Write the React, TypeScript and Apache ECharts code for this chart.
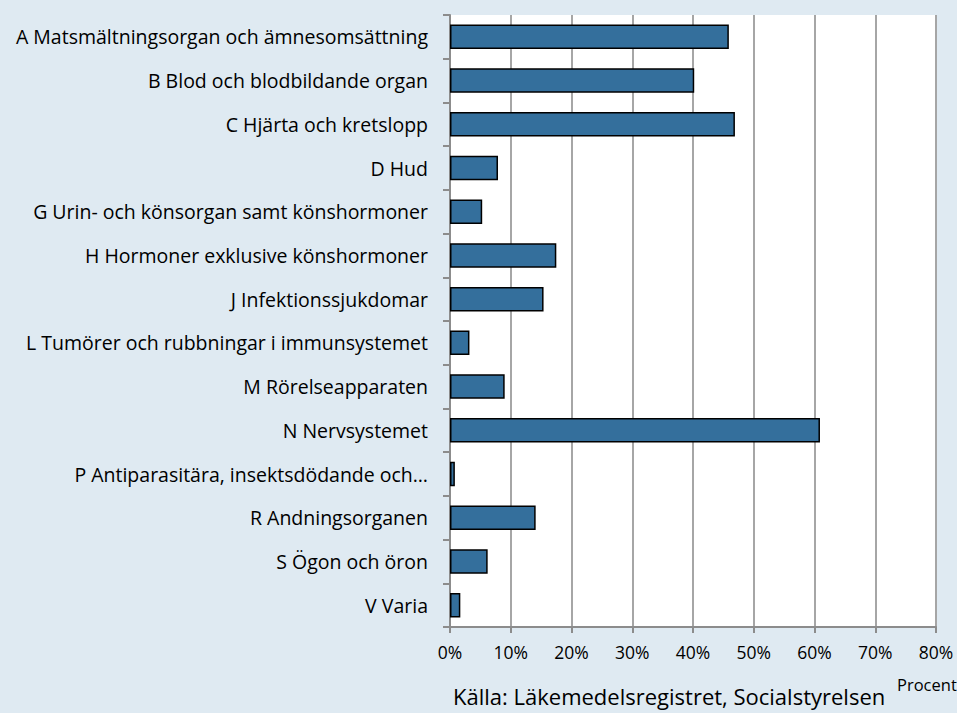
import React, { useEffect, useRef } from "react";
import * as echarts from "echarts";

const categories = [
  "A Matsmältningsorgan och ämnesomsättning",
  "B Blod och blodbildande organ",
  "C Hjärta och kretslopp",
  "D Hud",
  "G Urin- och könsorgan samt könshormoner",
  "H Hormoner exklusive könshormoner",
  "J Infektionssjukdomar",
  "L Tumörer och rubbningar i immunsystemet",
  "M Rörelseapparaten",
  "N Nervsystemet",
  "P Antiparasitära, insektsdödande och…",
  "R Andningsorganen",
  "S Ögon och öron",
  "V Varia",
];
const values = [45.9, 40.2, 46.9, 7.9, 5.3, 17.5, 15.4, 3.2, 9.0, 60.9, 0.8, 14.1, 6.2, 1.7];
const xTicks = [0, 10, 20, 30, 40, 50, 60, 70, 80];
const sourceText = "Källa: Läkemedelsregistret, Socialstyrelsen";
const axisTitle = "Procent";

export default function App() {
  const ref = useRef<HTMLDivElement>(null);
  useEffect(() => {
    if (!ref.current) return;
    const chart = echarts.init(ref.current, null, { renderer: "svg" });
    const font = "'Open Sans', 'Liberation Sans', sans-serif";
    chart.setOption({
      animation: false,
      backgroundColor: "#dfeaf2",
      grid: { left: 450, right: 21, top: 15, bottom: 86, containLabel: false, show: true, backgroundColor: "#ffffff", borderWidth: 0 },
      xAxis: {
        type: "value",
        min: xTicks[0],
        max: xTicks[xTicks.length - 1],
        interval: 10,
        axisLine: { show: true, lineStyle: { color: "#8c8c8c", width: 2 } },
        axisTick: { show: true, length: 6, lineStyle: { color: "#8c8c8c", width: 2 } },
        splitLine: { show: true, lineStyle: { color: "#a6a6a6", width: 2 } },
        axisLabel: { formatter: "{value}%", color: "#000", fontSize: 17.5, fontFamily: font, margin: 16 },
      },
      yAxis: {
        type: "category",
        data: categories,
        inverse: true,
        axisLine: { show: true, lineStyle: { color: "#8c8c8c", width: 2 } },
        axisTick: { show: true, length: 7, lineStyle: { color: "#8c8c8c", width: 2 } },
        axisLabel: { color: "#000", fontSize: 19.5, fontFamily: font, margin: 22 },
      },
      series: [
        {
          type: "bar",
          data: values,
          barWidth: "56%",
          itemStyle: { color: "#346f9c", borderColor: "#000", borderWidth: 1.5 },
        },
      ],
      graphic: [
        { type: "text", left: 453, top: 685, style: { text: sourceText, fontSize: 22, fontFamily: font, fill: "#000" } },
        { type: "text", left: 897, top: 676, style: { text: axisTitle, fontSize: 16.5, fontFamily: font, fill: "#000" } },
      ],
    });
    return () => chart.dispose();
  }, []);
  return <div ref={ref} style={{ width: 957, height: 713, position: "absolute", left: 0, top: 0 }} />;
}
